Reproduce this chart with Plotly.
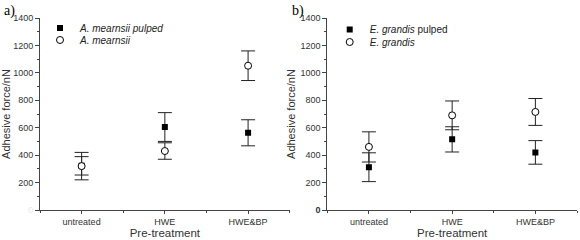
import plotly.graph_objects as go
from plotly.subplots import make_subplots

categories = ["untreated", "HWE", "HWE&BP"]
xpos = [1, 2, 3]

a_pulped = [322, 605, 563]
a_pulped_err = [67, 105, 95]
a_raw = [320, 430, 1052]
a_raw_err = [100, 60, 108]

b_pulped = [312, 515, 420]
b_pulped_err = [105, 92, 86]
b_raw = [460, 690, 715]
b_raw_err = [110, 105, 98]

yticks = [0, 200, 400, 600, 800, 1000, 1200, 1400]
yticktext_a = ['<span style="color:#e8e8e8">0</span>'] + [str(v) for v in yticks[1:]]
yticktext_b = ['<b>0</b>'] + [str(v) for v in yticks[1:]]

fig = make_subplots(rows=1, cols=2, horizontal_spacing=0.07)

FONT = "Liberation Sans, Arial, sans-serif"

def add_pair(col, pulped, perr, raw, rerr, name_p, name_r, leg_p, leg_r):
    fig.add_trace(go.Scatter(
        x=xpos, y=pulped, mode="markers", name=name_p, legend=leg_p,
        marker=dict(symbol="square", size=6, color="black"),
        error_y=dict(type="data", array=perr, color="#222", thickness=1, width=7),
    ), row=1, col=col)
    fig.add_trace(go.Scatter(
        x=xpos, y=raw, mode="markers", name=name_r, legend=leg_r,
        marker=dict(symbol="circle", size=7, color="white", line=dict(width=1, color="black")),
        error_y=dict(type="data", array=rerr, color="#222", thickness=1, width=7),
    ), row=1, col=col)

add_pair(1, a_pulped, a_pulped_err, a_raw, a_raw_err,
         "<i>A. mearnsii pulped</i>", "<i>A. mearnsii</i>", "legend", "legend2")
add_pair(2, b_pulped, b_pulped_err, b_raw, b_raw_err,
         "<i>E. grandis</i> pulped", "<i>E. grandis</i>", "legend3", "legend4")

for col, ttext in [(1, yticktext_a), (2, yticktext_b)]:
    fig.update_yaxes(range=[0, 1400], tickvals=yticks, ticktext=ttext,
                     ticks="outside", ticklen=4, tickwidth=1, tickcolor="#444",
                     minor=dict(dtick=100, ticks="outside", ticklen=2, tickcolor="#444"),
                     showline=True, linecolor="#444", linewidth=1,
                     showgrid=False, zeroline=False, automargin=False,
                     tickfont=dict(size=9, color="#333", family=FONT),
                     title=dict(text="Adhesive force/nN", font=dict(size=11, color="#333", family=FONT), standoff=2),
                     row=1, col=col)
    fig.update_xaxes(range=[0.5, 3.5], tickvals=xpos, ticktext=categories,
                     ticks="outside", ticklen=3, tickcolor="#444",
                     minor=dict(tickvals=[0.5, 1.5, 2.5, 3.5], ticks="outside", ticklen=2, tickcolor="#444"),
                     showline=True, linecolor="#444", linewidth=1,
                     showgrid=False, zeroline=False, automargin=False,
                     tickfont=dict(size=9, color="#333", family=FONT),
                     title=dict(text="Pre-treatment", font=dict(size=11.5, color="#333", family=FONT), standoff=2),
                     row=1, col=col)

def leg(x, y):
    return dict(x=x, y=y, xanchor="left", yanchor="top", bgcolor="rgba(0,0,0,0)",
                font=dict(size=10, color="#222", family=FONT), itemwidth=30)

fig.update_layout(
    width=580, height=240,
    margin=dict(l=40, r=3, t=18, b=30),
    plot_bgcolor="white", paper_bgcolor="white",
    showlegend=True,
    legend=leg(0.0, 1.0234),
    legend2=leg(0.0, 0.961),
    legend3=leg(0.5395, 1.0156),
    legend4=leg(0.5395, 0.9505),
)

fig.add_annotation(text="a)", x=-0.071, y=1.038, xref="paper", yref="paper",
                   showarrow=False, xanchor="left", yanchor="middle",
                   font=dict(size=14, family="Liberation Serif, Times New Roman, serif", color="black"))
fig.add_annotation(text="b)", x=0.466, y=1.038, xref="paper", yref="paper",
                   showarrow=False, xanchor="left", yanchor="middle",
                   font=dict(size=14, family="Liberation Serif, Times New Roman, serif", color="black"))

fig.write_html("out.html", config={"displayModeBar": False},
               post_script="document.body.style.margin='0';document.body.style.overflow='hidden';")
